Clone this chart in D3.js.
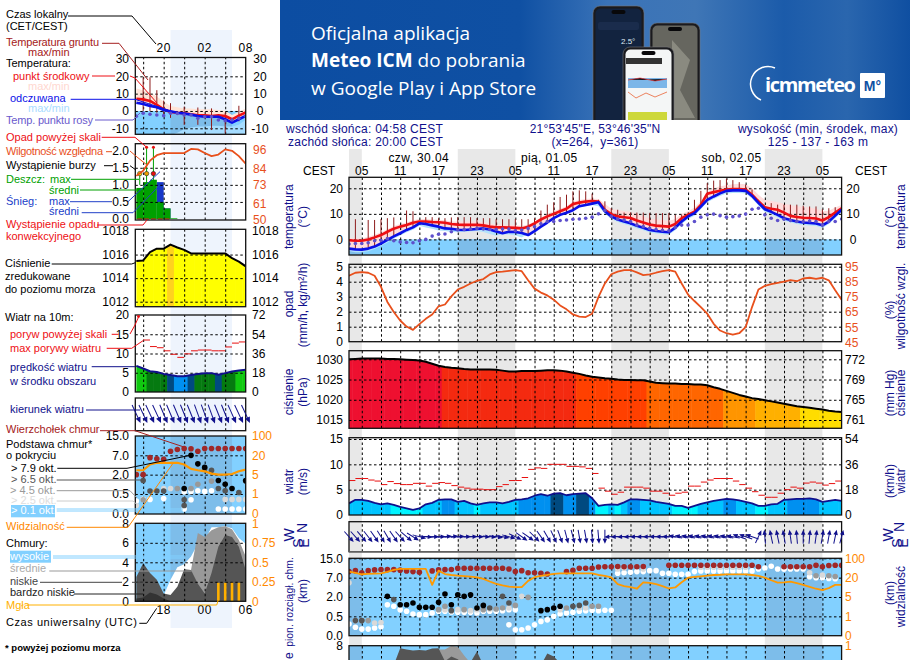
<!DOCTYPE html>
<html lang="pl">
<head>
<meta charset="utf-8">
<title>Meteogram</title>
<script src="https://cdn.jsdelivr.net/npm/d3@7"></script>
<style>
  html, body { margin: 0; padding: 0; background: #fff; overflow: hidden; }
  svg { display: block; font-family: "Liberation Sans", Arial, sans-serif; font-size: 12px; }
  .grid line { stroke: #000; stroke-dasharray: 2.5 2.5; }
  .grid path { display: none; }
  .grid text { display: none; }
  .lab path { display: none; }
  .lab line { display: none; }
  .lab text { font-size: 12px; }
</style>
</head>
<body>
<svg id="chart" width="910" height="660"></svg>
<script>
// ---------- main meteogram: hourly values, index 0 = 03:00 CEST on 30.04 ----------
const tempMid = [-0.3,-0.5,-0.5,0,0.8,1.7,3,4.2,5,5.6,6.5,7,7,6.8,6.7,6.5,6,5.8,5.7,5.7,5.7,5.5,5,4.7,4.7,4.6,4.5,4.3,5,6.3,7.8,9,10,11,12,13.8,14.4,14.8,15,14.8,11.6,9.9,9,8.7,8.4,7.4,6.6,5.8,5.4,5.2,5,6,8.3,9.6,10.9,13.5,17.9,18.5,19,19.5,19.7,19.7,19.5,17.5,14.9,12.6,12,11.6,10.5,9.2,8.8,8.5,8.4,8.2,7.4,8.7,10.5,12.2];
const tempHi = [0.6,0.4,0.4,1,1.8,2.8,4,5.2,6,6.6,7.5,8,8,7.8,7.7,7.5,7,7,7,7,7,6.8,6.2,5.8,5.8,5.6,5.5,5.2,5.8,7,8.6,10,11,12,13,14.8,15.4,15.8,16,15.8,14,12,11.5,11,10.8,10,9,8.2,7.8,7.6,7.2,8,10,11,12.5,15,18.5,20,20.8,21.2,21.6,21.8,21.6,20,17.5,15.5,15,14.5,14,13.5,13,12.8,12.5,12,11,11.2,12.5,13.5];
const feels = [-3.6,-3.9,-4,-3.6,-2.8,-1.6,-0.2,1.2,2.4,3.7,4.7,6.3,6,5.5,5,4.3,4.2,3.8,3.7,3.9,4.1,4.3,3.9,3.1,2.4,3,2.9,2.5,1.7,3.2,5,6.6,8.3,9.6,10.4,11.4,13,13.5,14,14.5,11,9,7.8,7,6.3,5.3,4.6,3.7,3.3,3,2.8,4.6,7,9,10.3,12.8,15.5,16.8,18,19,19.2,19.2,19,17,14.3,11.8,10.8,9.6,8.3,7.6,7,6.6,6.4,6.2,5.5,7,9.3,11.6];
const feelsLo = [-4.5,-5,-5,-4.6,-3.8,-2.6,-1.2,0.3,1.5,2.8,3.8,5.3,4.7,4.2,3.5,3.3,2.9,2.8,3,3.1,3.3,2.9,2.1,1.4,2,1.9,1.5,0.7,2.2,4,5.6,7.3,8.6,9.4,10.4,12,12.5,13,13.5,13,10,8,6.8,6,5.3,4.3,3.6,2.7,2.3,2,1.8,3.6,6,8,9.3,11.8,14.5,15.8,17,18,18.2,18.2,18,16,13.3,10.8,9.8,8.6,7.3,6.6,6,5.6,5.4,5.2,4.5,6,8.3,10.6];
const dewPoint = [-1.8,-1.6,-1.6,-1.3,-0.5,-0.3,0.3,-0.5,-1,-1.2,-1.3,-0.5,0,1.3,2,2.1,3,3.7,3.9,4.1,4.3,4.1,3.9,3.9,4.1,4.1,3.4,3.7,4.3,5,6.1,7,7,7.4,7.6,7.9,8,8.3,8.7,10,11.3,9,8,7.6,7,5.6,5,4.3,3.9,3.6,3.4,4.7,5.6,5.6,7,8.7,9.6,9.9,9.3,8.7,8.9,9.2,9.9,11.8,12.2,9.6,8.3,7.4,7.9,7.4,7,7,7.2,7,5.6,7,7,8];
const groundMax = [null,7.9,null,7.6,7.6,7.9,8.3,8.6,null,11.3,11,null,8.7,8.7,8.3,8.3,8.6,8.7,8.7,8.7,8.3,8.3,8.3,7.9,7.9,7.9,7.9,7.9,7.9,8.3,11.3,13.6,14.5,16.6,17.5,18.8,19.2,18.8,17.9,15.5,14.9,12.2,11.6,10.5,10.5,10.5,10.5,10.3,10.3,10.3,10.3,9.6,9.6,10.5,15.5,19,22,23,23.2,23.7,23.2,22.4,21.4,19.5,15.5,12.2,14.2,13.6,13.6,13.6,13.6,13.2,12.9,12.9,11.8,12.2,12.6,12.6];
const humidity = [89,91,91.4,91,89,81.7,71.7,65,59.4,55.4,53.2,57,60.5,63.4,68.8,70,75.4,79.9,81.7,83.9,85.7,86.8,89.9,91.4,91.7,92.3,92.8,92,86,80.5,77.9,76,73.2,69.4,66.8,63.4,62,61.7,63.9,75,83.9,90,91.7,92.8,92.8,91.2,89.4,89.9,91,92,92.8,91.7,83.9,76.6,72.3,68.3,63.9,57.2,52.8,51,50,51,55,68.3,79.9,82.3,83.4,84.3,85.2,86.1,85.4,87.2,87.7,87,87.7,86,79.4,73.2];
const pressure = [1030,1030.1,1030.2,1030.2,1030.2,1030.2,1030.1,1030.1,1030,1029.9,1029.8,1029.7,1029.4,1028.9,1028.4,1028.1,1027.9,1027.8,1027.6,1027.5,1027.5,1027.5,1027.5,1027.4,1027.2,1027,1027,1027.1,1027.1,1027.1,1027.2,1027.3,1027.3,1027.2,1027,1026.7,1026.4,1026,1025.7,1025.5,1025.3,1025.2,1025,1024.9,1024.9,1024.8,1024.8,1024.5,1024.2,1024.1,1024,1024,1023.9,1023.9,1023.8,1023.8,1023.6,1023.1,1022.7,1022.2,1021.7,1021.2,1020.8,1020.4,1020.2,1019.9,1019.6,1019.3,1019,1018.7,1018.4,1018.2,1018,1017.8,1017.6,1017.3,1017.1,1017];
const wind = [2.3,3,3,2.8,2.4,2.1,2.3,2,1.6,1.3,1,1.3,2.1,2.4,3,3.1,3.1,2.6,2.8,2.3,2,2.3,2.5,2.5,2.3,2.6,3,3.1,3.3,3.8,4.1,3.8,4.2,4.3,3.9,4.1,4.2,4.3,3.3,1.8,2,2.1,2,2.5,3.1,3.1,3,2.9,2.6,2.4,2.2,1.8,1.8,1.4,1.8,2.2,2.5,2.8,3,3.2,3.1,2.9,2.6,2.3,1.8,1.8,2.1,2.2,3,3.1,3.2,3.2,3.3,3.1,2.6,2.8,3,2.8];
const gust = [6.8,7.2,7.2,6.9,6.7,6,6.6,6.2,6,6,6.25,6.25,5.7,6.25,6.4,6.25,5.8,5.5,5.3,5.1,5.1,5,5,5.6,6,6.8,6.8,7.4,9,9.3,9.2,10,10,10,9.6,9.6,9.5,9.2,8.2,5.3,4.7,4.1,4.5,5.5,5.5,5.5,5.3,4.7,4.7,4.3,3.9,4.3,4.5,5.7,5.7,6.5,6.9,7.2,7.2,7.2,6.7,6,5.3,4.6,3.9,3.5,3.5,4.3,5,5.5,5.3,6.3,6.5,6.3,5.9,6.2,6.7];
const windDir = [138,138,140,142,145,148,150,145,138,130,122,105,95,90,88,85,85,86,88,88,90,92,95,98,100,105,115,125,125,135,145,150,155,160,165,165,170,170,175,175,180,268,268,268,268,270,270,270,272,272,272,280,280,280,280,280,280,280,280,280,280,290,290,290,25,-5,-12,-12,-10,-8,-5,0,5,8,10,10,12,15];
const visibility = [45,40,34,36,37,38,44,52,56,56,56,56,56,14.4,49,35,31,28,26,24,21.4,19,17,15.2,14,13,12.6,12.6,17.5,22,27,31,36,38,38,38,38,38,38,31,27,21.4,14.9,13.4,12.6,11.4,16.4,15.9,14.9,13.4,11.6,12.4,16.4,20,22.8,25.5,28,31,32,33.8,33.8,33.8,33.8,31,27,20,18,16.2,16.4,16.9,15.7,14.4,12.9,11.4,10.3,11.9,14.4,14.4];
const cloudTop = [9.5,9.9,9,9.9,10.2,10.4,10.3,10.3,10.1,9.8,9.5,9.2,null,9.8,10.2,10.3,10.4,10.9,10.9,10.9,10.9,10.9,10.9,10.9,10.9,10.6,9.5,9.9,9,9,8.8,8.5,null,null,9.5,10,10.9,10.9,10.9,11.4,11.5,11.5,11.6,11.5,11.5,11.5,11.6,null,null,null,12.1,12.1,12.1,12.1,12.1,12.1,12.1,12.1,12.1,12.1,12.1,12.1,12.1,12.1,11.5,null,null,null,11.5,11.5,11.5,11.5,11.5,12.1,11.5,12,12.1,12.1];
// cloud base dots by cover class: [hour index, km]
const baseBlack = [[6,2.17],[8,1.4],[9,1.4],[10,1.53],[11,1.2],[12,1.2],[13,1.2],[14,1.59],[15,2.76],[16,1.4],[17,2.6],[18,2.17],[19,2.6],[20,1.15],[21,1.35],[30,.94],[31,1.02],[32,1.15],[33,1.28]];
const baseDark = [[1,.39],[2,.39],[7,1.8],[16,.94],[22,1.15],[24,2.17],[25,1.53],[35,1.28],[36,1.35],[37,1.53]];
const baseGrey = [[2,.39],[3,.39],[14,1.02],[15,1.28],[18,1.02],[21,1.02],[23,1.07],[24,1.15],[26,1.35],[28,1.97],[34,1.15],[39,1.28],[38,1.28],[73,7.8],[75,7.8],[76,7.5]];
const baseLight = [[0,5.7],[1,.39],[4,.33],[5,.34],[15,1.02],[17,1.02],[19,.94],[20,1.02],[22,1.07],[25,1.15],[27,2.17],[33,1.02],[36,1.15],[37,1.15],[42,10.6],[43,10.9],[46,10.6],[55,11.3],[56,11.3],[57,11.3],[58,11.3],[59,11.3],[60,11.3],[61,11.3],[62,11.3],[72,9],[74,8.1]];
const baseWhite = [[0,.3],[1,.22],[2,.17],[3,.17],[4,.2],[5,.23],[6,1.4],[7,1.28],[8,1.02],[9,.89],[10,.68],[11,.63],[12,.63],[13,.76],[14,.89],[15,.89],[16,.84],[17,.81],[18,.81],[19,.81],[20,.76],[21,.89],[22,.89],[23,.89],[24,.94],[25,1.02],[26,1.02],[25,.28],[26,.155],[27,.155],[28,.2],[29,.28],[30,.37],[31,.41],[32,.5],[33,.68],[34,.76],[35,.81],[36,.89],[37,.94],[38,.97],[39,.94],[40,.97],[41,.97],[42,8.8],[43,9],[44,9.2],[45,9.5],[46,9.5],[47,9.9],[48,9.9],[49,8.8],[50,8.8],[51,8.4],[52,8.4],[53,8.4],[54,9.5],[55,9.8],[56,9.8],[57,9.8],[58,9.8],[59,9.8],[60,9.8],[61,9.8],[62,9.8],[63,9.8],[64,10.6],[65,11],[66,11.7],[67,10.6],[68,10.45],[69,10.6],[70,10.6],[71,10.6],[72,7.4],[73,7],[74,7],[75,6.8],[76,6.7]];
const cloudLowMain = [3,3,3,3,3,4,5,6,7.75,7.6,7.5,7.55,7.5,7.7,7.75,6.4,6.9,6.6,6.1,6.3,7.4,6,4,4,4,4,4,4,4,4,6,7.2,6.9,6.2,3,3,3,3,3,3,3,3,3,3,3,3,3,3,3,3,3,3,3,3,3,3,3,3,3,3,3,3,3,3,3,3,3,3,3,3,3,3,3,3,3,3,3,3];
const cloudMidMain = [2,2,2,2,2,2,2,2,2,2,2,2,2,7.4,7.6,7.6,8,7.9,7,6.2,3,3,3,3,3,3,3,3,3,3,3,3,3,3,3,3,3,3,3,3,3,3,3,3,3,3,3,3,3,3,3,3,3,3,3,3,3,3,3,3,3,3,3,3,3,3,3,3,3,3,3,3,3,3,3,3,3,3];
const nightMain = [[0,2],[17,26],[41,50],[65,74]];
const hourTicks = ["05","11","17","23","05","11","17","23","05","11","17","23","05"];
const dayLabels = [["czw, 30.04",10.9],["pią, 01.05",31.3],["sob, 02.05",59.8]];
const tempTicks = [20,10,0];
const rainTicks = [0,1,2,3,4,5];
const humidTicks = [95,85,75,65,55,45];
const pressTicks = [1030,1025,1020,1015];
const mmHgLabels = ["772","769","765","761"];
const windTicks = [15,10,5,0];
const windKmhLabels = ["54","36","18","0"];
const baseTicks = [15,7,2,.5,0];
const visTicks = [100,20,5,1,0];

// ---------- legend meteogram: hourly values, index 0 = 15 UTC ----------
const legRed = [7.1,6.7,5.8,3.5,1,-0.6,-1,-1.3,-1.9,-2.5,-2.5,-2.9,-2.5,-2.9,-4.8,-2.7,-0.8];
const legBlue = [4.8,4,2.9,2.1,0.6,-0.2,-1,-1.5,-2.1,-2.9,-3.3,-3.3,-3.3,-4.8,-6.7,-4.8,-2.9];
const legRedHi = [13,12,10.6,8.3,5.4,2.9,2.1,1.5,1.5,1,1,1,.5,.2,-2.3,-.4,1.5];
const legBlueLo = [-14,-14,-14,-14,-14,-14,-12.5,-10.5,-9.5,-9,-9,-8.5,-8.5,-9,-9,-8,-5];
const legDew = [-3,-1.3,-1.9,-2.3,-2.7,-1.3,-1.5,-2.3,-2.3,-4.2,-3.3,-3.3,-5.2,-5.6,-5.2,-4.2,-3];
const legGroundMax = [null,19.4,19.4,12,6,4.5,null,2.5,null,2,null,1.5,null,-1,null,3,null];
const legGroundMin = [null,0,0,-1,-2,-4,null,-8,null,-8,null,-11,null,-13,null,-6,null];
const legRain = [.91,1.08,1.15,.5,.31,.02];
const legSnowTop = [0,0,0,1.08,.31,0];
const legRainMax = [1.3,2.1,2.1];
const legStormColors = ["#ffe000","#f0a000","#e81010"];
const legHumid = [79,82.4,89,92.6,94,94,94,94,96.7,96.4,94,92,93,96.4,95.5,92,87];
const legPress = [1015.45,1015.5,1016.2,1016.5,1016.5,1016.85,1016.6,1016.4,1016.1,1016.1,1016.1,1016.1,1016.1,1016.1,1015.7,1015.4,1015];
const legWind = [6.8,6.1,5.4,5.2,4.7,4.4,4.1,4.1,4.4,4.7,4.9,4.9,4.5,4.9,5.3,5.6,5.8];
const legGust = [null,13.5,11.8,11.5,10.7,9.8,9,9.9,10.7,10.9,10.9,10.7,10.7,11.7,12.7,13,13];
const legDir = [155,155,155,155,157,157,157,158,158,160,160,160,158,158,156,155,155];
const legTop = [2,2,6.4,6.1,6,8.7,9.4,9.8,9.7,8.7,9.8,9.8,9.8,9.8,9.8,9.8,9.8];
const legBlack = [[7,.92],[8,7],[9,4.8],[10,3.9],[12,1.55],[13,1.25],[14,.92],[16,1.55]];
const legDark = [[1,1.55],[2,.73],[3,.73],[4,.73],[7,.35],[7,.2],[10,3.5],[11,3.1],[12,.92],[13,.75],[15,.62],[16,1.5]];
const legGrey = [[1,.35],[6,.92],[8,.92],[9,1.25],[11,1.5]];
const legLight = [[0,.2],[4,.92],[5,.92],[13,.36],[14,.36],[15,.36],[16,.36]];
const legWhite = [[0,.32],[1,.36],[2,.36],[4,.38],[7,.11],[7,.67],[8,.35],[8,.7],[9,.75],[10,.7],[11,.75],[12,.11],[13,.11],[14,.11],[15,.11],[16,.11]];
const legVis = [8.4,8.4,12.9,14.2,14.2,14.2,14.2,12.9,9.5,8.4,7.6,5.8,5,5,5.5,7.6,8.9];
const legHigh = [0,0,0,0,.6,2.2,3.5,3.8,4.6,5.9,6.2,7.6,7.6,7.7,7.5,6.5,5.9];
const legMid = [0,0,0,0,0,0,0,2.5,3.2,7,6.6,7.3,7.6,7.7,7.4,6.3,4.6];
const legLow = [2.5,3.9,2.9,2.2,.8,.65,1.5,3.3,3.2,1.8,.8,2.9,5.6,6.8,6.6,5.6,3.2];
const legVeryLow = [.3,.4,.9,.7,.3,0,0,0,0,0,0,0,0,0,0,0,0];
const legFog = [[12,.25],[13,.25],[14,.25],[15,.25]];
const legNight = [5,14];

const NAVY = "#10108c", ORANGE = "#ff8800", HUMID = "#e8501c", SKY = "#82d0ff", SKY_NIGHT = "#7dbdea";
const windColor = d3.scaleThreshold([2.05,3.05,4.15,4.65,5.5],["#00f4ff","#00c4ff","#0090f0","#004a80","#057a10","#10c810"]);
const pressColor = d3.scaleThreshold([1018.4,1020.4,1022.6,1024.7,1026.6,1028.4],["#ffdd00","#ffb000","#ff9500","#ff6600","#ff4000","#f42a10","#ee1030"]);

const svg = d3.select("#chart");
const x = d3.scaleLinear([0,77],[349,841.6]);
const lx = d3.scaleLinear([-0.15,16],[135.3,245.7]);
const mainGridX = d3.range(2,78,3);
const legGridX = d3.range(1,17,3);
let clipId = 0;

function fmt1(d) { return d.toFixed(1); }

// banner on top, only decoration
function drawBanner() {
  const defs = svg.append("defs");
  const grad = defs.append("linearGradient").attr("id","bannerGrad");
  [[0,"#0c4da2"],[.38,"#0f50a3"],[.52,"#3a73b8"],[.66,"#3f76b6"],[.8,"#1b5baa"],[.9,"#2a66ae"],[1,"#0f4fa1"]]
    .forEach(s => grad.append("stop").attr("offset",s[0]).attr("stop-color",s[1]));
  defs.append("clipPath").attr("id","bannerClip").append("rect").attr("x",280).attr("y",0).attr("width",630).attr("height",120);
  const g = svg.append("g").attr("clip-path","url(#bannerClip)");
  g.append("rect").attr("x",280).attr("y",0).attr("width",630).attr("height",120).attr("fill","url(#bannerGrad)");
  const t = g.append("g").attr("fill","#fff").attr("font-family","'Open Sans',sans-serif").attr("font-size",19);
  t.append("text").attr("x",311).attr("y",40).text("Oficjalna aplikacja");
  const l2 = t.append("text").attr("x",311).attr("y",67);
  l2.append("tspan").attr("font-weight",700).text("Meteo ICM");
  l2.append("tspan").text(" do pobrania");
  t.append("text").attr("x",311).attr("y",95).text("w Google Play i App Store");

  const phone = (px,py,w,h,screen) => {
    g.append("rect").attr("x",px).attr("y",py).attr("width",w).attr("height",h).attr("rx",7).attr("fill","#1a1a1e").attr("stroke","#77777a").attr("stroke-width",.6);
    g.append("rect").attr("x",px+2.5).attr("y",py+2.5).attr("width",w-5).attr("height",h-5).attr("rx",5).attr("fill",screen);
    g.append("rect").attr("x",px+w/2-7).attr("y",py+4).attr("width",14).attr("height",4).attr("rx",2).attr("fill","#08080a");
  };
  phone(593,6,51,125,"#12233f");
  phone(650,23,50,110,"#66665f");
  g.append("path").attr("d","M672 40 L690 60 L680 90 L695 118 L672 118 Z").attr("fill","#8a8a80");
  phone(623,47,51,90,"#f4f6f6");
  // small bits inside the phone screens
  g.append("rect").attr("x",598).attr("y",22).attr("width",41).attr("height",8).attr("rx",2).attr("fill","#1a2c4c");
  g.append("text").attr("x",621).attr("y",44).attr("fill","#dfe8f4").attr("font-size",8).text("2.5°");
  g.append("rect").attr("x",626).attr("y",58).attr("width",36).attr("height",6).attr("fill","#333");
  g.append("rect").attr("x",628).attr("y",78).attr("width",39).attr("height",10).attr("fill","#7cb6e8");
  g.append("path").attr("d","M628 80 L640 78 L655 81 L667 79").attr("stroke","#e33","fill","none").attr("stroke-width",.7);
  g.append("path").attr("d","M628 92 L636 98 L646 93 L655 97 L667 92").attr("stroke","#e8501c").attr("fill","none").attr("stroke-width",.7);
  g.append("rect").attr("x",628).attr("y",112).attr("width",39).attr("height",8).attr("fill","#cdd83a");
  // logo
  g.append("path").attr("d","M775 68 A16 16 0 0 0 761 100").attr("fill","none").attr("stroke","#fff").attr("stroke-width",1.5);
  g.append("text").attr("x",765).attr("y",92).attr("fill","#fff").attr("font-family","'Open Sans',sans-serif").attr("font-weight",700).attr("font-size",20).attr("textLength",91).text("icmmeteo");
  g.append("rect").attr("x",860).attr("y",73).attr("width",25).attr("height",25).attr("rx",1).attr("fill","#fff");
  g.append("text").attr("x",872.5).attr("y",91).attr("text-anchor","middle").attr("fill","#0f50a3").attr("font-weight",700).attr("font-size",14).text("M°");
}

// bands behind all panels
function drawNight() {
  const g = svg.append("g");
  nightMain.forEach(n => {
    g.append("rect").attr("x",x(n[0])).attr("y",149).attr("width",x(n[1])-x(n[0])).attr("height",511).attr("fill","#e8e8e8");
  });
  g.append("rect").attr("x",lx(legNight[0])).attr("y",30).attr("width",lx(legNight[1])-lx(legNight[0])).attr("height",598).attr("fill","#eef4fd");
}

// sets up one panel: returns group clipped to it, with a few helpers
function makePanel(xs, top, bottom) {
  const left = xs.range()[0], right = xs.range()[1];
  const id = "clip" + (clipId++);
  svg.select("defs").append("clipPath").attr("id",id).append("rect")
    .attr("x",left).attr("y",top).attr("width",right-left).attr("height",bottom-top);
  const g = svg.append("g").attr("clip-path","url(#"+id+")");
  return { g, xs, top, bottom, left, right };
}

function skyFill(p, y0, nights) {
  p.g.append("rect").attr("x",p.left).attr("y",y0).attr("width",p.right-p.left).attr("height",p.bottom-y0).attr("fill",SKY);
  nights.forEach(n => {
    p.g.append("rect").attr("x",p.xs(n[0])).attr("y",y0).attr("width",p.xs(n[1])-p.xs(n[0])).attr("height",p.bottom-y0).attr("fill",SKY_NIGHT);
  });
}

function grid(p, xTicks, y, yTicks) {
  p.g.append("g").attr("class","grid").attr("transform","translate(0,"+p.bottom+")")
    .call(d3.axisBottom(p.xs).tickValues(xTicks).tickSize(-(p.bottom-p.top)));
  p.g.append("g").attr("class","grid").attr("transform","translate("+p.left+",0)")
    .call(d3.axisLeft(y).tickValues(yTicks).tickSize(-(p.right-p.left)));
}

function frame(p) {
  svg.append("rect").attr("x",p.left).attr("y",p.top).attr("width",p.right-p.left).attr("height",p.bottom-p.top)
    .attr("fill","none").attr("stroke","#111").attr("stroke-width",1.3);
}

function axisLabels(scale, values, side, xPos, format, color, anchor) {
  const ax = side === "left" ? d3.axisLeft(scale) : d3.axisRight(scale);
  svg.append("g").attr("class","lab").attr("transform","translate("+xPos+",0)")
    .call(ax.tickValues(values).tickSize(0).tickPadding(0).tickFormat(format || (d => d)))
    .call(s => s.selectAll("text").attr("fill",color || "#000"))
    .call(s => { if (anchor) s.selectAll("text").attr("text-anchor",anchor); });
}

function labelsFrom(values, labels) {
  return d => labels[values.indexOf(d)];
}

function line(p, vals, y, color, width) {
  const gen = d3.line().defined(d => d != null).x((d,i) => p.xs(i)).y(d => y(d));
  p.g.append("path").attr("d",gen(vals)).attr("fill","none").attr("stroke",color).attr("stroke-width",width).attr("stroke-linejoin","round");
}

function band(p, lo, hi, y, color) {
  const gen = d3.area().x((d,i) => p.xs(i)).y0((d,i) => y(lo[i])).y1((d,i) => y(hi[i]));
  p.g.append("path").attr("d",gen(lo)).attr("fill",color);
}

function colouredFill(p, vals, y, colorOf) {
  const id = "clip" + (clipId++);
  const gen = d3.area().x((d,i) => p.xs(i)).y0(p.bottom).y1(d => y(d));
  svg.select("defs").append("clipPath").attr("id",id).append("path").attr("d",gen(vals));
  const w = p.xs(1) - p.xs(0);
  p.g.append("g").attr("clip-path","url(#"+id+")").selectAll("rect").data(vals).join("rect")
    .attr("x",(d,i) => p.xs(i)-w/2).attr("y",p.top).attr("width",w+.5).attr("height",p.bottom-p.top)
    .attr("fill",d => colorOf(d));
}

function dots(p, pts, y, r, color) {
  p.g.append("g").selectAll("circle").data(pts).join("circle")
    .attr("cx",d => p.xs(d[0])).attr("cy",d => y(d[1])).attr("r",r).attr("fill",color);
}

function seriesDots(p, vals, y, r, color) {
  const pts = vals.map((v,i) => [i,v]).filter(d => d[1] != null);
  dots(p, pts, y, r, color);
}

function groundBars(p, maxVals, minVals, y) {
  const pts = maxVals.map((v,i) => [i,v,minVals[i]]).filter(d => d[1] != null);
  p.g.append("g").selectAll("line").data(pts).join("line")
    .attr("x1",d => p.xs(d[0])).attr("x2",d => p.xs(d[0])).attr("y1",d => y(d[1])).attr("y2",d => y(d[2]))
    .attr("stroke","#8e1c1c").attr("stroke-width",1);
}

function arrows(p, dirs, yc, len, head) {
  const g = p.g.append("g").selectAll("g").data(dirs).join("g")
    .attr("transform",(d,i) => "translate("+p.xs(i)+","+yc+") rotate("+d+")");
  g.append("line").attr("y1",len/2).attr("y2",-len/2+head/2).attr("stroke",NAVY).attr("stroke-width",1);
  g.append("path").attr("d","M0 "+(-len/2)+" L"+(head*.45)+" "+(-len/2+head)+" L"+(-head*.45)+" "+(-len/2+head)+" Z").attr("fill",NAVY);
}

function cloudArea(p, vals, y, color) {
  const gen = d3.area().x((d,i) => p.xs(i)).y0(y(0)).y1(d => y(d));
  p.g.append("path").attr("d",gen(vals)).attr("fill",color);
}

function baseScale(dom, bottom, top) {
  return d3.scaleLinear(dom, d3.range(5).map(i => bottom + (top-bottom)*i/4));
}

function drawMain() {
  // temperature
  let p = makePanel(x,177.3,255);
  const yT = d3.scaleLinear([-6.1,24.3],[255,177.3]);
  skyFill(p,yT(0),nightMain);
  band(p,feels,tempHi,yT,"#ffdcdc");
  band(p,feelsLo,feels,yT,"#b4e2fb");
  grid(p,mainGridX,yT,tempTicks);
  groundBars(p,groundMax,feels,yT);
  line(p,tempMid,yT,"#ee0f14",2.6);
  line(p,feels,yT,"#0a10e8",2.6);
  seriesDots(p,dewPoint,yT,1.8,"#5e50cc");
  frame(p);
  axisLabels(yT,tempTicks,"left",343);
  axisLabels(yT,tempTicks,"right",853,null,"#000","middle");

  // rain and humidity, no rain in this forecast
  p = makePanel(x,264.3,341.7);
  const yR = d3.scaleLinear([0,5],[341.7,266.7]);
  const yH = d3.scaleLinear([45,95],[342.3,266.7]);
  grid(p,mainGridX,yR,rainTicks);
  line(p,humidity,yH,HUMID,1.8);
  frame(p);
  axisLabels(yR,rainTicks,"left",343);
  axisLabels(yH,humidTicks,"right",845,null,HUMID);

  // pressure
  p = makePanel(x,350.7,428.3);
  const yP = d3.scaleLinear([1015,1030],[420,359.3]);
  colouredFill(p,pressure,yP,pressColor);
  grid(p,mainGridX,yP,pressTicks);
  line(p,pressure,yP,"#000",2);
  frame(p);
  axisLabels(yP,pressTicks,"left",343);
  axisLabels(yP,pressTicks,"right",845,labelsFrom(pressTicks,mmHgLabels));

  // wind
  p = makePanel(x,437.7,515);
  const yW = d3.scaleLinear([0,15],[515,439]);
  colouredFill(p,wind,yW,windColor);
  grid(p,mainGridX,yW,windTicks);
  p.g.append("g").selectAll("line").data(gust).join("line")
    .attr("x1",(d,i) => x(i)).attr("x2",(d,i) => x(i+1)).attr("y1",d => yW(d)).attr("y2",d => yW(d))
    .attr("stroke","#e81010").attr("stroke-width",1);
  line(p,wind,yW,"#10108c",1.8);
  frame(p);
  axisLabels(yW,windTicks,"left",343);
  axisLabels(yW,windTicks,"right",845,labelsFrom(windTicks,windKmhLabels));

  // wind direction
  p = makePanel(x,521.7,551.7);
  grid(p,mainGridX,d3.scaleLinear([0,1],[551.7,521.7]),[]);
  frame(p);
  svg.append("line").attr("x1",349).attr("x2",841.6).attr("y1",552).attr("y2",552).attr("stroke","#777").attr("stroke-width",1.5);
  arrows({ g: svg.append("g"), xs: x },windDir,536.7,14,5);

  // cloud base
  p = makePanel(x,558.3,635.7);
  const yB = baseScale(baseTicks.slice().reverse(),635.7,558.3);
  const yV = baseScale(visTicks.slice().reverse(),635.7,558.3);
  skyFill(p,558.3,nightMain);
  grid(p,mainGridX,yB,baseTicks);
  dots(p,baseWhite,yB,2.8,"#fff");
  dots(p,baseLight,yB,2.8,"#d9d9d9");
  dots(p,baseGrey,yB,2.8,"#999");
  dots(p,baseDark,yB,2.8,"#555");
  dots(p,baseBlack,yB,2.8,"#000");
  seriesDots(p,cloudTop,yB,2.8,"#a02828");
  line(p,visibility,yV,"#ff9900",1.8);
  frame(p);
  axisLabels(yB,baseTicks,"left",343,fmt1);
  axisLabels(yV,visTicks,"right",845,null,ORANGE);

  // clouds, most of it is below the picture edge
  p = makePanel(x,645.7,723.5);
  const yC = d3.scaleLinear([0,8],[723.5,645.7]);
  skyFill(p,645.7,nightMain);
  grid(p,mainGridX,yC,[6]);
  cloudArea(p,cloudMidMain,yC,"#9a9a9a");
  cloudArea(p,cloudLowMain,yC,"#555");
  frame(p);
  axisLabels(yC,[8],"left",343);
  axisLabels(yC,[8],"right",845,() => "1",ORANGE);

  // header rows
  const tx = (txt,xp,yp,col,anchor,spacing) => svg.append("text").attr("x",xp).attr("y",yp).attr("fill",col)
    .attr("text-anchor",anchor||"start").attr("letter-spacing",spacing||0).text(txt);
  tx("wschód słońca: 04:58 CEST",286,133,NAVY,"start",.25);
  tx("zachód słońca: 20:00 CEST",288,146,NAVY,"start",.25);
  tx("21°53'45\"E, 53°46'35\"N",595,133,NAVY,"middle",.2);
  tx("(x=264,  y=361)",595,146,NAVY,"middle",.2).attr("xml:space","preserve");
  tx("wysokość (min, środek, max)",818,133,NAVY,"middle",.2);
  tx("125 - 137 - 163 m",818,146,NAVY,"middle",.35);
  dayLabels.forEach(d => tx(d[0],x(d[1]),162,"#000","middle",.4));
  tx("CEST",303,175,"#000");
  tx("CEST",855,175,"#000");
  svg.append("g").selectAll("text").data(hourTicks).join("text")
    .attr("x",(d,i) => x(2+i*6)).attr("y",175).attr("text-anchor","middle").text(d => d);

  // rotated side titles
  const rot = (txt,xp,yp,size) => svg.append("text")
    .attr("transform","translate("+xp+","+yp+") rotate(-90)").attr("text-anchor","middle")
    .attr("fill",NAVY).attr("font-size",size||12).text(txt);
  [["temperatura",293,216.7],["(°C)",307,216.7],["opad",293,304],["(mm/h, kg/m²/h)",307,305],
   ["ciśnienie",293,392],["(hPa)",307,392],["wiatr",293,481.7],["(m/s)",307,481.7],
   ["(km)",307,591],
   ["temperatura",905,216.7],["(°C)",894,216.7],["wilgotność wzgl.",905,306],["(%)",894,310],
   ["ciśnienie",905,393],["(mm Hg)",894,393],["wiatr",905,481],["(km/h)",894,481],
   ["widzialność",905,596.7],["(km)",894,593]].forEach(r => rot(r[0],r[1],r[2]));
  rot("pion. rozciągł. chm.",293,602,10.4);
  svg.append("text").attr("transform","translate(293,659) rotate(-90)").attr("fill",NAVY).text("e");

  // compass letters
  [["W",294,535],["S",303,543],["N",307,528],["E",309,543],["W",893,535],["S",901.7,543],["N",904.3,527],["E",908,543]]
    .forEach(c => rot(c[0],c[1],c[2],14));
}

function drawLegendPanels() {
  // temperature
  let p = makePanel(lx,57.5,134.3);
  const yT = d3.scaleLinear([-10,30],[128.3,59]);
  skyFill(p,yT(0),[legNight]);
  band(p,legBlue,legRedHi,yT,"#ffe4d8");
  p.g.append("path").attr("d",d3.area().x((d,i) => lx(i)).y0(p.bottom).y1(d => yT(d))(legBlueLo)).attr("fill","#a5dcff");
  grid(p,legGridX,yT,[20,10,0,-10]);
  groundBars(p,legGroundMax,legGroundMin,yT);
  line(p,legRed,yT,"#ee0f14",2.6);
  line(p,legBlue,yT,"#0a10e8",2.6);
  seriesDots(p,legDew,yT,1.8,"#5e50cc");
  frame(p);
  axisLabels(yT,[30,20,10,0,-10],"left",129);
  axisLabels(yT,[30,20,10,0,-10],"right",260,null,"#000","middle");

  // rain
  p = makePanel(lx,143.7,220);
  const yR = d3.scaleLinear([0,2],[219,150.7]);
  const yH = d3.scaleLinear([50,96],[220,150]);
  const bar = (vals,col) => p.g.append("g").selectAll("rect").data(vals).join("rect")
    .attr("x",(d,i) => lx(i)).attr("width",(d,i) => lx(i+1)-lx(i)).attr("y",d => yR(d)).attr("height",d => yR(0)-yR(d)).attr("fill",col);
  bar(legSnowTop,"#1838c8");
  bar(legRain,"#00a000");
  grid(p,legGridX,yR,[1.5,1,.5]);
  p.g.append("g").selectAll("line").data(legRainMax).join("line")
    .attr("x1",(d,i) => lx(i+.5)).attr("x2",(d,i) => lx(i+.5)).attr("y1",d => yR(d)).attr("y2",yR(1))
    .attr("stroke","#00a000").attr("stroke-width",1);
  p.g.append("g").selectAll("circle").data(legRainMax.filter(d => d > 2)).join("circle")
    .attr("cx",(d,i) => lx(i+1.5)).attr("cy",yR(2.1)).attr("r",1.5).attr("fill","#e81010");
  p.g.append("g").selectAll("circle").data(legStormColors).join("circle")
    .attr("cx",(d,i) => lx(i+.5)).attr("cy",yR(1.33)).attr("r",2.2).attr("fill",d => d).attr("stroke","#222").attr("stroke-width",.6);
  p.g.append("g").selectAll("line").data(legRain.slice(0,5)).join("line")
    .attr("x1",(d,i) => lx(i)+1).attr("x2",(d,i) => lx(i+1)-1).attr("y1",yR(0)).attr("y2",yR(0))
    .attr("stroke","#e81010").attr("stroke-width",1.2);
  line(p,legHumid,yH,HUMID,1.8);
  frame(p);
  axisLabels(yR,[2,1.5,1,.5,0],"left",129,fmt1);
  axisLabels(yH,[96,84,73,61,50],"right",253,null,HUMID);

  // pressure
  p = makePanel(lx,229.3,306.7);
  const yP = d3.scaleLinear([1012,1018],[301.7,231]);
  colouredFill(p,legPress,yP,d => d > 1016.7 ? "#ffd21e" : "#ffff00");
  grid(p,legGridX,yP,[1016,1014,1012]);
  line(p,legPress,yP,"#000",2);
  frame(p);
  axisLabels(yP,[1018,1016,1014,1012],"left",129);
  axisLabels(yP,[1018,1016,1014,1012],"right",252);

  // wind
  p = makePanel(lx,315,392);
  const yW = d3.scaleLinear([0,20],[392,315]);
  colouredFill(p,legWind,yW,windColor);
  grid(p,legGridX,yW,[15,10,5]);
  p.g.append("g").selectAll("line").data(legGust).join("line")
    .attr("x1",(d,i) => lx(i)).attr("x2",(d,i) => lx(i+1)).attr("y1",d => d == null ? -9 : yW(d)).attr("y2",d => d == null ? -9 : yW(d))
    .attr("stroke","#e81010").attr("stroke-width",1);
  line(p,legWind,yW,"#10108c",2);
  frame(p);
  axisLabels(yW,[20,15,10,5,0],"left",129);
  axisLabels(d3.scaleLinear([0,72],[392,315]),[72,54,36,18,0],"right",252);
  svg.append("circle").attr("cx",138.5).attr("cy",316.5).attr("r",1.4).attr("fill","#e81010");

  // direction
  p = makePanel(lx,398,430.7);
  grid(p,legGridX,d3.scaleLinear([0,1],[430.7,398]),[]);
  frame(p);
  arrows({ g: svg.append("g"), xs: lx },legDir,414,20,6);

  // cloud base
  p = makePanel(lx,436,514);
  const yB = baseScale(baseTicks.slice().reverse(),513.3,436);
  const yV = baseScale(visTicks.slice().reverse(),513.3,436);
  skyFill(p,436,[legNight]);
  grid(p,legGridX,yB,[7,2,.5]);
  dots(p,legWhite,yB,2.8,"#fff");
  dots(p,legLight,yB,2.8,"#d9d9d9");
  dots(p,legGrey,yB,2.8,"#999");
  dots(p,legDark,yB,2.8,"#555");
  dots(p,legBlack,yB,2.8,"#000");
  seriesDots(p,legTop,yB,2.8,"#a02828");
  line(p,legVis,yV,"#ff9900",2.2);
  frame(p);
  axisLabels(yB,baseTicks,"left",129,fmt1);
  axisLabels(yV,visTicks,"right",252,null,ORANGE);

  // clouds
  p = makePanel(lx,523.3,601.3);
  const yC = d3.scaleLinear([0,8],[601.3,523.3]);
  const yF = d3.scaleLinear([0,1],[601.3,523.3]);
  skyFill(p,523.3,[legNight]);
  cloudArea(p,legHigh,yC,"#fff");
  cloudArea(p,legMid,yC,"#999");
  cloudArea(p,legLow,yC,"#555");
  cloudArea(p,legVeryLow,yC,"#333");
  grid(p,legGridX,yC,[6,4,2]);
  p.g.append("g").selectAll("rect").data(legFog).join("rect")
    .attr("x",d => lx(d[0])-1.3).attr("y",d => yF(d[1])+1).attr("width",2.6).attr("height",d => yF(0)-yF(d[1]))
    .attr("fill","#ffb000");
  frame(p);
  axisLabels(yC,[8,6,4,2,0],"left",129);
  axisLabels(yF,[1,.75,.5,.25,0],"right",252,d => String(d),ORANGE);

  // time labels
  const times = [["20","02","08"],["18","00","06"]];
  [52,614].forEach((yp,k) => {
    svg.append("g").selectAll("text").data(times[k]).join("text")
      .attr("x",(d,i) => lx(4+i*6)).attr("y",yp).attr("text-anchor","middle").attr("letter-spacing",.5).text(d => d);
  });
}

// left column captions and their thin leader lines
const capText = [
  ["Czas lokalny",6,18,"#000"],["(CET/CEST)",6,30,"#000"],
  ["Temperatura gruntu",6,45.5,"#a52020"],["max/min",28,56,"#a52020"],["Temperatura:",6,67,"#000"],
  ["punkt środkowy",13,79.5,"#ee0f14"],["max/min",28,90,"#ffd8d0"],["odczuwana",10,102,"#0a10e8"],
  ["max/min",28,112,"#a8dcff"],["Temp. punktu rosy",6,123.5,"#6a5acd"],["Opad powyżej skali",6,141,"#ee0f14"],
  ["Wilgotność względna",6,154.5,HUMID],["Wystąpienie burzy",6,169,"#000"],["Deszcz:",6,183,"#00a000"],
  ["max",50,183,"#00a000"],["średni",49,193.5,"#00a000"],["Śnieg:",6,204.5,"#2040c8"],["max",49,204.5,"#2040c8"],
  ["średni",49,215,"#2040c8"],["Wystąpienie opadu",6,227.5,"#ee0f14"],["konwekcyjnego",6,240,"#ee0f14"],
  ["Ciśnienie",5,267,"#000"],["zredukowane",5,279.5,"#000"],["do poziomu morza",5,293,"#000"],
  ["Wiatr na 10m:",5,321,"#000"],["poryw powyżej skali",10,338,"#ee0f14"],["max porywy wiatru",10,352,"#ee0f14"],
  ["prędkość wiatru",10,371,NAVY],["w środku obszaru",10,384.5,NAVY],["kierunek wiatru",10,413,NAVY],
  ["Wierzchołek chmur",6,433,"#a52020"],["Podstawa chmur*",6,448,"#000"],["o pokryciu",6,459,"#000"],
  ["> 7.9 okt.",11,472,"#000"],["> 6.5 okt.",11,483,"#555"],["> 4.5 okt.",10,493.5,"#999"],["> 2.5 okt.",11,503.5,"#ddd"],
  ["Widzialność",6,529.5,ORANGE],["Chmury:",6,547,"#000"],["średnie",10,572,"#aaa"],["niskie",10,584.5,"#444"],
  ["bardzo niskie",10,596,"#222"],["Mgła",6,608.5,"#ffb000"],["Czas uniwersalny (UTC)",6,626,"#000"]
];
const capLines = [
  ["#000",[[68,16],[132,16],[156,44]]],["#a52020",[[102,43.3],[119,43.3],[148,80]]],
  ["#ee0f14",[[92,76],[115,76]]],["#ee0f14",[[130,76],[135,78],[157,103]]],["#0a10e8",[[70.7,99.3],[135,99.3],[168,110]]],
  ["#6a5acd",[[95,120],[133,120],[140,113]]],["#ee0f14",[[101.7,137.3],[135,137.3],[146,146.7]]],
  [HUMID,[[106,151.7],[112,151.7]]],[HUMID,[[130,151],[137,157],[147,165]]],["#000",[[104,165.7],[113,165.7]]],
  ["#000",[[130,165.7],[136,170]]],["#00a000",[[71,179.3],[139,179.3]]],["#00a000",[[80,190],[145,190]]],
  ["#2040c8",[[70,201.7],[112,201.7]]],["#2040c8",[[128,201.7],[160,171.7]]],["#2040c8",[[81.7,212.7],[133,212.7],[160,185]]],
  ["#ee0f14",[[97,225],[143,225],[147,220]]],["#000",[[51.7,264],[131.7,264],[135.3,262.7]]],
  ["#ee0f14",[[111.7,334.3],[118.7,334.3]]],["#ee0f14",[[130,334],[135,325],[139,316]]],
  ["#ee0f14",[[106.7,348.3],[131.7,348.3],[143,340.7]]],[NAVY,[[91.7,366.7],[135,366.7]]],[NAVY,[[86,410],[140,410]]],
  ["#a52020",[[100,430.7],[135,430.7],[183,446.7]]],["#000",[[57.3,468.3],[127,468.3],[191.7,455]]],
  ["#555",[[56.7,480],[143,480]]],["#999",[[56.7,490.7],[130,490.7],[137,498]]],["#ccc",[[56.7,501],[133,501],[137.5,505]]],
  [SKY,[[56.7,509],[183,509]]],[SKY,[[56.7,511],[183,511]]],[ORANGE,[[66.7,527.3],[128,527.3],[173,463.3]]],
  [SKY,[[53,556],[185,556]]],[SKY,[[53,558],[185,558]]],["#999",[[49.3,571],[191.7,571]]],["#444",[[40,582.3],[122,582.3]]],
  ["#444",[[132,582.3],[143,582.3]]],["#222",[[74,594],[143,594]]],["#ffb000",[[26.7,605],[216.7,605],[218.3,600]]],
  ["#000",[[139.3,623.3],[146.7,623.3],[156.7,608.3]]]
];
const capBoxes = [["> 0.1 okt.",11,505,44,12.3,514],["wysokie",10,550.7,41,12,560]];
// a few captions are narrower in the picture than the font gives
const capWidths = { "Temperatura gruntu": 93, "Wilgotność względna": 97, "Temp. punktu rosy": 87, "Opad powyżej skali": 95, "Czas uniwersalny (UTC)": 131 };

function drawCaptions() {
  const path = d3.line();
  svg.append("g").selectAll("path").data(capLines).join("path")
    .attr("d",d => path(d[1])).attr("fill","none").attr("stroke",d => d[0]).attr("stroke-width",1);
  capBoxes.forEach(b => {
    svg.append("rect").attr("x",b[1]).attr("y",b[2]).attr("width",b[3]).attr("height",b[4]).attr("fill",SKY);
    svg.append("text").attr("x",b[1]).attr("y",b[5]).attr("fill","#fff").attr("font-size",11).text(b[0]);
  });
  svg.append("g").attr("font-size",11).selectAll("text").data(capText).join("text")
    .attr("x",d => d[1]).attr("y",d => d[2]).attr("fill",d => d[3])
    .attr("textLength",d => capWidths[d[0]] || null)
    .text(d => d[0]);
  svg.append("text").attr("x",5).attr("y",651).attr("font-size",9.5).attr("font-weight",700).text("* powyżej poziomu morza");
}

drawBanner();
drawNight();
drawMain();
drawLegendPanels();
drawCaptions();
</script>
</body>
</html>
